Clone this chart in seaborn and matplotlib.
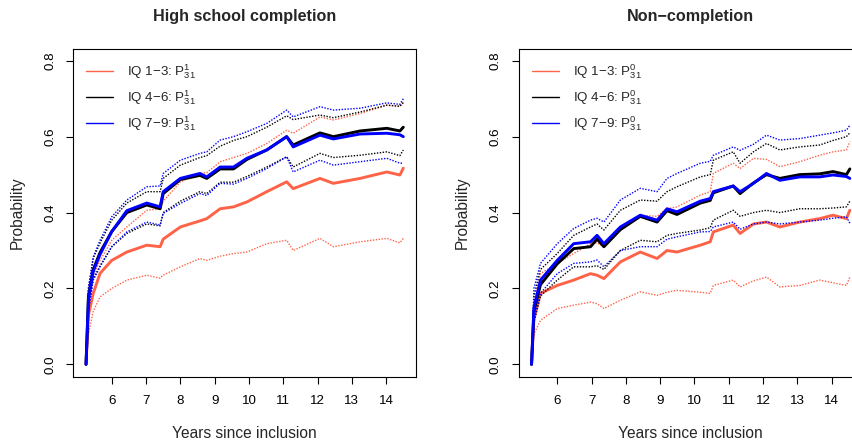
import matplotlib
matplotlib.use("Agg")
import matplotlib.pyplot as plt
from matplotlib.lines import Line2D
import seaborn as sns
import numpy as np

# ---------------- data ----------------
titles = ["High school completion", "Non\u2212completion"]
groups = ["IQ 1\u22123", "IQ 4\u22126", "IQ 7\u22129"]
superscripts = ["1", "0"]
group_colors = ["#FF6347", "#000000", "#0000FF"]
x_ticks = [6, 7, 8, 9, 10, 11, 12, 13, 14]
y_ticks = [0.0, 0.2, 0.4, 0.6, 0.8]
y_ticklabels = ["0.0", "0.2", "0.4", "0.6", "0.8"]
x_label = "Years since inclusion"
y_label = "Probability"

# High school completion panel
years_hs = [5.25, 5.32, 5.46, 5.66, 6.0, 6.44, 7.02, 7.41, 7.5, 8.0, 8.57, 8.77,
            9.16, 9.55, 9.94, 10.52, 11.1, 11.29, 12.07, 12.46, 13.24, 14.02, 14.4, 14.5]
hs_low_est = [0, 0.13, 0.187, 0.24, 0.274, 0.296, 0.314, 0.31, 0.33, 0.362, 0.378, 0.384,
              0.41, 0.415, 0.428, 0.455, 0.481, 0.463, 0.49, 0.477, 0.49, 0.507, 0.499, 0.517]
hs_low_lo = [0, 0.08, 0.14, 0.178, 0.2, 0.222, 0.235, 0.227, 0.235, 0.257, 0.279, 0.274,
             0.285, 0.292, 0.296, 0.318, 0.327, 0.30, 0.332, 0.31, 0.323, 0.332, 0.32, 0.332]
hs_low_hi = [0, 0.17, 0.235, 0.274, 0.327, 0.362, 0.406, 0.41, 0.43, 0.481, 0.503, 0.505,
             0.534, 0.545, 0.556, 0.582, 0.617, 0.609, 0.652, 0.644, 0.661, 0.683, 0.68, 0.69]
hs_mid_est = [0, 0.18, 0.25, 0.295, 0.35, 0.40, 0.42, 0.41, 0.45, 0.487, 0.498, 0.49,
              0.515, 0.515, 0.54, 0.565, 0.60, 0.578, 0.61, 0.60, 0.615, 0.622, 0.615, 0.625]
hs_mid_lo = [0, 0.15, 0.225, 0.26, 0.31, 0.345, 0.37, 0.365, 0.40, 0.43, 0.455, 0.45,
             0.48, 0.48, 0.495, 0.52, 0.547, 0.52, 0.556, 0.545, 0.551, 0.56, 0.55, 0.565]
hs_mid_hi = [0, 0.2, 0.28, 0.32, 0.38, 0.425, 0.455, 0.455, 0.49, 0.525, 0.545, 0.55,
             0.575, 0.59, 0.60, 0.625, 0.655, 0.645, 0.657, 0.65, 0.665, 0.683, 0.68, 0.69]
hs_high_est = [0, 0.17, 0.245, 0.29, 0.35, 0.405, 0.425, 0.415, 0.455, 0.49, 0.503, 0.494,
               0.52, 0.52, 0.543, 0.565, 0.60, 0.573, 0.604, 0.594, 0.607, 0.609, 0.605, 0.60]
hs_high_lo = [0, 0.14, 0.222, 0.257, 0.31, 0.349, 0.375, 0.367, 0.398, 0.424, 0.45, 0.445,
              0.477, 0.475, 0.49, 0.516, 0.547, 0.507, 0.538, 0.525, 0.534, 0.543, 0.53, 0.53]
hs_high_hi = [0, 0.2, 0.283, 0.327, 0.389, 0.433, 0.468, 0.47, 0.503, 0.538, 0.556, 0.56,
              0.591, 0.60, 0.613, 0.635, 0.67, 0.652, 0.679, 0.67, 0.675, 0.689, 0.685, 0.70]

# Non-completion panel
years_nc = [5.25, 5.32, 5.51, 6.0, 6.48, 6.97, 7.16, 7.36, 7.84, 8.42, 8.91, 9.2, 9.49,
            10.17, 10.46, 10.55, 11.13, 11.33, 11.72, 12.1, 12.49, 13.07, 13.65, 14.04, 14.43, 14.53]
nc_low_est = [0, 0.12, 0.187, 0.208, 0.222, 0.239, 0.235, 0.226, 0.27, 0.296, 0.279, 0.30, 0.296,
              0.314, 0.323, 0.349, 0.367, 0.345, 0.37, 0.375, 0.362, 0.375, 0.384, 0.393, 0.384, 0.406]
nc_low_lo = [0, 0.08, 0.116, 0.147, 0.156, 0.164, 0.16, 0.147, 0.169, 0.191, 0.182, 0.19, 0.195,
             0.19, 0.187, 0.208, 0.222, 0.204, 0.22, 0.23, 0.204, 0.208, 0.222, 0.215, 0.208, 0.23]
nc_low_hi = [0, 0.16, 0.239, 0.266, 0.292, 0.318, 0.32, 0.31, 0.358, 0.393, 0.39, 0.41, 0.415,
             0.446, 0.455, 0.503, 0.53, 0.516, 0.543, 0.54, 0.521, 0.534, 0.551, 0.56, 0.565, 0.587]
nc_mid_est = [0, 0.14, 0.21, 0.265, 0.305, 0.31, 0.33, 0.31, 0.355, 0.39, 0.375, 0.405, 0.395,
              0.425, 0.432, 0.452, 0.47, 0.45, 0.478, 0.50, 0.49, 0.50, 0.502, 0.508, 0.50, 0.515]
nc_mid_lo = [0, 0.11, 0.18, 0.222, 0.257, 0.257, 0.26, 0.25, 0.30, 0.327, 0.323, 0.34, 0.345,
             0.354, 0.36, 0.38, 0.406, 0.39, 0.40, 0.406, 0.40, 0.41, 0.41, 0.412, 0.415, 0.43]
nc_mid_hi = [0, 0.18, 0.25, 0.292, 0.34, 0.362, 0.37, 0.354, 0.406, 0.433, 0.43, 0.455, 0.468,
             0.494, 0.50, 0.538, 0.56, 0.53, 0.56, 0.582, 0.565, 0.573, 0.578, 0.59, 0.60, 0.61]
nc_high_est = [0, 0.15, 0.222, 0.274, 0.318, 0.323, 0.34, 0.318, 0.362, 0.393, 0.38, 0.41, 0.402,
               0.43, 0.437, 0.455, 0.47, 0.455, 0.477, 0.503, 0.485, 0.494, 0.494, 0.499, 0.495, 0.49]
nc_high_lo = [0, 0.12, 0.187, 0.239, 0.266, 0.27, 0.275, 0.257, 0.30, 0.31, 0.31, 0.33, 0.336,
              0.349, 0.35, 0.362, 0.375, 0.356, 0.37, 0.375, 0.37, 0.375, 0.38, 0.385, 0.389, 0.372]
nc_high_hi = [0, 0.2, 0.266, 0.318, 0.358, 0.38, 0.385, 0.375, 0.433, 0.464, 0.455, 0.49, 0.503,
              0.53, 0.535, 0.551, 0.573, 0.564, 0.58, 0.604, 0.591, 0.595, 0.604, 0.61, 0.617, 0.63]

panels = [
    (years_hs, [(hs_low_est, hs_low_lo, hs_low_hi),
                (hs_mid_est, hs_mid_lo, hs_mid_hi),
                (hs_high_est, hs_high_lo, hs_high_hi)]),
    (years_nc, [(nc_low_est, nc_low_lo, nc_low_hi),
                (nc_mid_est, nc_mid_lo, nc_mid_hi),
                (nc_high_est, nc_high_lo, nc_high_hi)]),
]

# ---------------- style ----------------
sns.set_style("ticks")
plt.rcParams["font.family"] = ["Liberation Sans", "DejaVu Sans"]
plt.rcParams["mathtext.default"] = "regular"
plt.rcParams["axes.linewidth"] = 0.8

W, H = 853, 446
fig = plt.figure(figsize=(W / 100, H / 100), dpi=100)

ax_left_px = [73, 518.5]
ax_w_px = 343
ax_top_px, ax_bot_px = 49, 376.5
ax_h_px = ax_bot_px - ax_top_px
axes = []
for lx in ax_left_px:
    axes.append(fig.add_axes([lx / W, 1 - ax_bot_px / H, ax_w_px / W, ax_h_px / H]))

base_fs = 9.6
label_fs = 11.2
dotted = (0, (1.0, 1.1))

for i, ax in enumerate(axes):
    years, series = panels[i]
    for g, (est, lo, hi) in enumerate(series):
        c = group_colors[g]
        sns.lineplot(x=years, y=est, ax=ax, color=c, linewidth=2.1,
                     estimator=None, sort=False, legend=False)
        sns.lineplot(x=years, y=lo, ax=ax, color=c, linewidth=1.0,
                     linestyle=dotted, estimator=None, sort=False, legend=False)
        sns.lineplot(x=years, y=hi, ax=ax, color=c, linewidth=1.0,
                     linestyle=dotted, estimator=None, sort=False, legend=False)

    ax.set_xlim(4.87, 14.87)
    ax.set_ylim(-0.032, 0.831)
    ax.set_xticks(x_ticks)
    ax.set_xticklabels([str(t) for t in x_ticks], fontsize=base_fs)
    ax.set_yticks(y_ticks)
    ax.set_yticklabels(y_ticklabels, fontsize=base_fs, rotation=90, va="center")
    ax.tick_params(axis="both", direction="out", length=5, width=0.8, color="black",
                   labelcolor="black")
    ax.tick_params(axis="x", pad=8.5)
    ax.tick_params(axis="y", pad=7)
    for s in ax.spines.values():
        s.set_visible(True)
        s.set_color("black")
        s.set_linewidth(0.8)

    ax.set_xlabel(x_label, fontsize=label_fs)
    ax.set_ylabel(y_label, fontsize=label_fs)
    ax.xaxis.set_label_coords(0.5, (ax_bot_px - 434) / ax_h_px)
    ax.xaxis.label.set_va("center")
    ax.yaxis.set_label_coords(-56 / ax_w_px, 0.5)
    ax.yaxis.label.set_va("center")

    ax.text(0.5, 1 + (ax_top_px - 17) / ax_h_px, titles[i],
            transform=ax.transAxes, ha="center", va="center",
            fontsize=11.6, fontweight="bold")

    handles = [Line2D([0], [0], color=group_colors[g], lw=1.0) for g in range(3)]
    labels = [f"{groups[g]}: $P_{{31}}^{{{superscripts[i]}}}$" for g in range(3)]
    ax.legend(handles, labels, loc="upper left",
              bbox_to_anchor=(9.5 / ax_w_px, 1 - 9 / ax_h_px),
              frameon=False, fontsize=base_fs, handlelength=2.0,
              handletextpad=1.05, labelspacing=0.55, borderaxespad=0.0,
              borderpad=0.3)

fig.savefig("out.png", dpi=100)
